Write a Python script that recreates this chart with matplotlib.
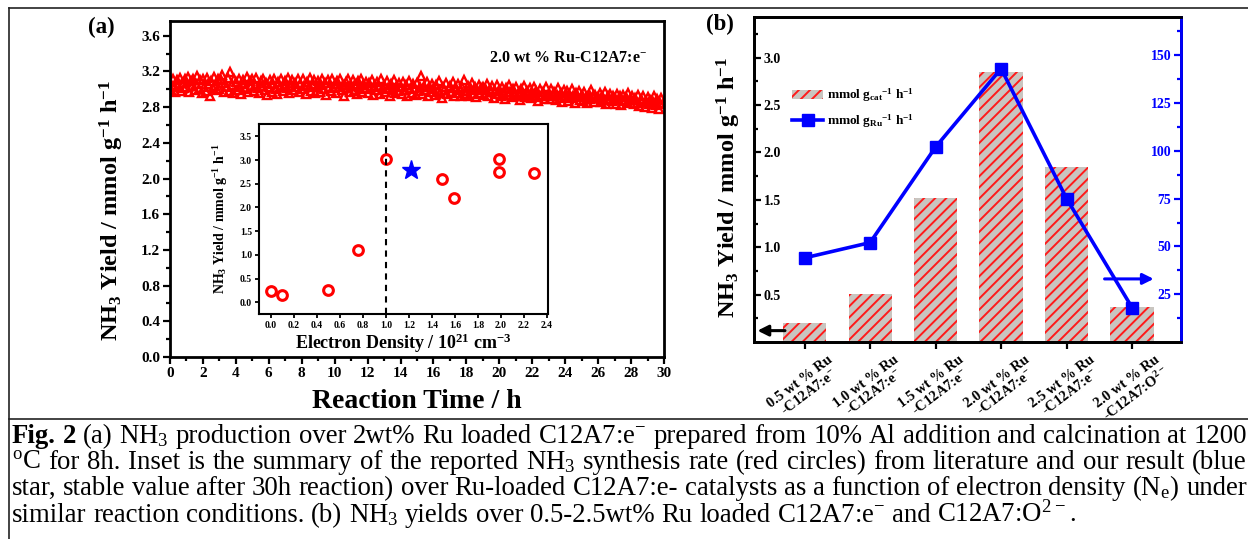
import numpy as np
import matplotlib
matplotlib.use("Agg")
import matplotlib.pyplot as plt
from matplotlib.lines import Line2D
from matplotlib.patches import Patch
from matplotlib.ticker import MultipleLocator, FormatStrFormatter, FixedLocator

# ---------------- data ----------------
# (a) NH3 yield of 2.0 wt% Ru-C12A7:e- during 30 h on stream (one reading every 5 min)
yield_on_stream = [
    3.08, 2.99, 3.11, 3.03, 2.97, 3.10, 3.05, 3.13, 2.98, 3.07, 3.01, 3.12,
    3.02, 3.14, 2.97, 3.09, 3.04, 3.12, 2.99, 3.06, 3.15, 3.00, 3.10, 2.96,
    3.11, 3.03, 2.98, 3.13, 3.06, 2.92, 3.09, 3.01, 3.14, 3.04, 2.99, 3.12,
    3.00, 3.10, 3.16, 2.97, 3.07, 3.02, 3.13, 2.98, 3.19, 3.05, 2.96, 3.11,
    3.08, 2.99, 3.12, 3.03, 2.95, 3.10, 3.06, 3.00, 3.14, 2.97, 3.09, 3.04,
    3.11, 2.98, 3.05, 3.13, 3.01, 2.96, 3.09, 3.04, 3.12, 2.99, 3.07, 2.94,
    3.02, 3.10, 2.97, 3.06, 3.12, 3.00, 2.95, 3.08, 3.03, 3.11, 2.98, 3.05,
    3.09, 3.01, 3.13, 2.96, 3.04, 3.10, 2.99, 3.07, 3.02, 3.12, 2.97, 3.06,
    3.00, 3.11, 3.04, 2.95, 3.08, 3.02, 3.13, 2.98, 3.06, 3.10, 2.96, 3.03,
    3.09, 2.97, 3.05, 3.12, 3.00, 3.07, 2.94, 3.10, 3.03, 2.98, 3.11, 3.01,
    3.06, 2.96, 3.09, 3.02, 3.12, 2.99, 3.05, 2.93, 3.08, 3.01, 3.11, 2.97,
    3.04, 3.10, 2.98, 3.06, 2.95, 3.09, 3.02, 3.12, 2.97, 3.05, 3.00, 3.08,
    2.96, 3.07, 3.01, 3.10, 2.94, 3.04, 2.99, 3.08, 3.02, 2.95, 3.11, 3.00,
    3.05, 2.97, 3.09, 3.01, 2.93, 3.06, 3.00, 3.10, 2.96, 3.03, 2.98, 3.07,
    3.02, 2.95, 3.08, 2.99, 3.05, 2.92, 3.09, 3.00, 2.96, 3.06, 3.01, 2.94,
    3.07, 2.98, 3.03, 3.15, 2.95, 3.04, 2.99, 3.08, 2.93, 3.02, 2.97, 3.06,
    3.00, 2.94, 3.05, 2.98, 3.09, 2.96, 2.90, 3.03, 2.99, 3.07, 2.95, 3.01,
    3.04, 2.97, 3.08, 2.93, 3.01, 2.96, 3.06, 2.99, 2.92, 3.03, 3.10, 2.95,
    2.98, 3.04, 2.93, 3.00, 3.07, 2.95, 3.02, 2.91, 2.99, 3.05, 2.96, 3.01,
    3.03, 2.94, 2.99, 3.06, 2.92, 3.00, 2.97, 3.04, 2.90, 2.98, 3.05, 2.95,
    2.99, 2.92, 3.03, 2.96, 2.89, 3.01, 2.94, 3.05, 2.97, 2.91, 3.00, 2.95,
    3.02, 2.93, 2.97, 2.88, 3.00, 2.95, 3.04, 2.91, 2.98, 2.94, 3.01, 2.90,
    2.96, 3.02, 2.91, 2.98, 2.87, 2.94, 3.00, 2.92, 2.97, 2.89, 3.03, 2.93,
    2.95, 2.89, 3.00, 2.93, 2.97, 2.88, 2.94, 3.01, 2.90, 2.96, 2.86, 2.99,
    2.93, 2.98, 2.87, 2.95, 2.90, 3.00, 2.92, 2.85, 2.96, 2.91, 2.98, 2.88,
    2.94, 2.87, 2.97, 2.91, 2.85, 2.95, 2.89, 2.99, 2.92, 2.86, 2.94, 2.90,
    2.91, 2.96, 2.86, 2.93, 2.88, 2.97, 2.84, 2.92, 2.89, 2.95, 2.87, 2.93,
    2.90, 2.84, 2.95, 2.88, 2.92, 2.82, 2.94, 2.87, 2.91, 2.85, 2.96, 2.89,
    2.88, 2.93, 2.83, 2.90, 2.85, 2.94, 2.81, 2.89, 2.86, 2.92, 2.80, 2.87,
    2.91, 2.83, 2.88, 2.79, 2.86, 2.92, 2.82, 2.89, 2.78, 2.85, 2.90, 2.84,
]
reaction_time_h = np.arange(len(yield_on_stream)) / 12.0

# inset: literature (red circles) and this work (blue star)
ne_literature = [0.0, 0.1, 0.5, 0.76, 1.0, 1.49, 1.59, 1.98, 1.98, 2.29]
rate_literature = [0.23, 0.15, 0.27, 1.11, 3.02, 2.61, 2.20, 3.02, 2.75, 2.73]
ne_this_work = [1.22]
rate_this_work = [2.80]

# (b) catalysts
catalysts = ["0.5 wt % Ru\n-C12A7:e$^{-}$", "1.0 wt % Ru\n-C12A7:e$^{-}$",
             "1.5 wt % Ru\n-C12A7:e$^{-}$", "2.0 wt % Ru\n-C12A7:e$^{-}$",
             "2.5 wt % Ru\n-C12A7:e$^{-}$", "2.0 wt % Ru\n-C12A7:O$^{2-}$"]
yield_per_gcat = [0.20, 0.51, 1.52, 2.85, 1.85, 0.37]
yield_per_gru = [44, 52, 102, 143, 75, 18]

# ---------------- style ----------------
plt.rcParams["font.family"] = ["Liberation Serif", "DejaVu Serif"]
plt.rcParams["font.weight"] = "bold"
plt.rcParams["mathtext.default"] = "regular"
plt.rcParams["hatch.linewidth"] = 1.4
plt.rcParams["axes.unicode_minus"] = True

W, H = 1248, 539
fig = plt.figure(figsize=(W / 100, H / 100), dpi=100)


def px_axes(l, t, r, b):
    return fig.add_axes([l / W, 1 - b / H, (r - l) / W, (b - t) / H])


def ftext(x, y, s, **kw):
    return fig.text(x / W, 1 - y / H, s, **kw)


RED = "#ff0000"
BLUE = "#0000ff"

# ---------------- panel (a) ----------------
axA = px_axes(170, 21, 664, 357)
axA.plot(reaction_time_h, yield_on_stream, ls="none", marker="^", ms=5.4,
         mfc="none", mec=RED, mew=1.7)
axA.set_xlim(0, 30)
axA.set_ylim(0, 3.765)
axA.xaxis.set_major_locator(MultipleLocator(2))
axA.xaxis.set_minor_locator(MultipleLocator(1))
axA.yaxis.set_major_locator(MultipleLocator(0.4))
axA.yaxis.set_minor_locator(MultipleLocator(0.2))
axA.yaxis.set_major_formatter(FormatStrFormatter("%.1f"))
axA.tick_params(which="both", direction="out", width=1.6, labelsize=11, pad=2)
axA.tick_params(which="major", length=5)
axA.tick_params(which="minor", length=3)
for sp in axA.spines.values():
    sp.set_linewidth(2.0)
axA.text(0.965, 0.89, "2.0 wt % Ru-C12A7:e$^{-}$", transform=axA.transAxes,
         ha="right", va="center", fontsize=11.5)
ftext(112, 210, "NH$_3$ Yield / mmol g$^{-1}$ h$^{-1}$", rotation=90,
      ha="center", va="center", fontsize=17.5)
ftext(417, 401, "Reaction Time / h", ha="center", va="center", fontsize=20)
ftext(101, 27, "(a)", ha="center", va="center", fontsize=16.5)

# inset
axI = px_axes(259, 124, 548, 314)
axI.plot(ne_literature, rate_literature, ls="none", marker="o", ms=7,
         mfc="none", mec=RED, mew=2.2)
axI.plot(ne_this_work, rate_this_work, ls="none", marker="*", ms=14,
         color=BLUE)
axI.axvline(1.0, color="black", lw=1.5, ls=(0, (3, 2.5)))
axI.set_xlim(-0.104, 2.41)
axI.set_ylim(-0.245, 3.76)
axI.xaxis.set_major_locator(MultipleLocator(0.2))
axI.yaxis.set_major_locator(MultipleLocator(0.5))
axI.xaxis.set_major_formatter(FormatStrFormatter("%.1f"))
axI.yaxis.set_major_formatter(FormatStrFormatter("%.1f"))
axI.tick_params(direction="out", length=3, width=1.3, labelsize=7, pad=2)
for sp in axI.spines.values():
    sp.set_linewidth(1.5)
ftext(221, 219, "NH$_3$ Yield / mmol g$^{-1}$ h$^{-1}$", rotation=90,
      ha="center", va="center", fontsize=10)
ftext(403, 343, "Electron Density / 10$^{21}$ cm$^{-3}$", ha="center",
      va="center", fontsize=13)

# ---------------- panel (b) ----------------
axB = px_axes(754, 17, 1181, 342)
xpos = np.arange(1, len(catalysts) + 1)
axB.bar(xpos, yield_per_gcat, width=0.66, color="#c9c5c0", edgecolor="#ff1a1a",
        hatch="///", linewidth=0)
axB.set_xlim(0.227, 6.747)
axB.set_ylim(0, 3.43)
axB.set_xticks(xpos)
axB.set_xticklabels(catalysts, rotation=37, ha="center", va="top",
                    multialignment="center", fontsize=10.5, linespacing=1.0)
axB.tick_params(axis="x", direction="out", length=5, width=1.6, pad=3)
axB.yaxis.set_major_locator(FixedLocator([0.5, 1.0, 1.5, 2.0, 2.5, 3.0]))
axB.yaxis.set_minor_locator(FixedLocator([0.25, 0.75, 1.25, 1.75, 2.25, 2.75, 3.25]))
axB.yaxis.set_major_formatter(FormatStrFormatter("%.1f"))
axB.tick_params(axis="y", which="both", direction="in", width=1.6, pad=-7,
                labelsize=10, right=False)
axB.tick_params(axis="y", which="major", length=5)
axB.tick_params(axis="y", which="minor", length=3)
for lab in axB.get_yticklabels():
    lab.set_horizontalalignment("left")
for sp in axB.spines.values():
    sp.set_linewidth(2.0)

axB2 = axB.twinx()
axB2.plot(xpos, yield_per_gru, color=BLUE, lw=2.6, marker="s", ms=8.5)
axB2.set_ylim(0, 170)
axB2.yaxis.set_major_locator(FixedLocator([25, 50, 75, 100, 125, 150]))
axB2.yaxis.set_minor_locator(FixedLocator([12.5, 37.5, 62.5, 87.5, 112.5, 137.5, 162.5]))
axB2.tick_params(axis="y", which="both", direction="in", width=1.6, pad=-7,
                 labelsize=10, colors=BLUE)
axB2.tick_params(axis="y", which="major", length=5)
axB2.tick_params(axis="y", which="minor", length=3)
for lab in axB2.get_yticklabels():
    lab.set_horizontalalignment("right")
for sp in axB2.spines.values():
    sp.set_linewidth(2.0)
axB2.spines["right"].set_color(BLUE)

# arrows
axB.annotate("", xy=(0.28, 0.12), xytext=(0.70, 0.12),
             arrowprops=dict(arrowstyle="-|>", color="black", lw=2.2,
                             mutation_scale=16, shrinkA=0, shrinkB=0))
axB2.annotate("", xy=(6.33, 33), xytext=(5.58, 33),
              arrowprops=dict(arrowstyle="-|>", color=BLUE, lw=2.2,
                              mutation_scale=16, shrinkA=0, shrinkB=0))

handles = [Patch(facecolor="#c9c5c0", edgecolor="#ff1a1a", hatch="///", lw=0),
           Line2D([], [], color=BLUE, lw=2.6, marker="s", ms=8)]
labels = ["mmol g$_{cat}$$^{-1}$ h$^{-1}$", "mmol g$_{Ru}$$^{-1}$ h$^{-1}$"]
axB2.legend(handles, labels, loc="upper left", bbox_to_anchor=(0.09, 0.785),
            frameon=False, fontsize=9.5, handlelength=2.3, handletextpad=0.3,
            labelspacing=0.6, borderaxespad=0, borderpad=0)

ftext(729, 187, "NH$_3$ Yield / mmol g$^{-1}$ h$^{-1}$", rotation=90,
      ha="center", va="center", fontsize=17.5)
ftext(720, 24, "(b)", ha="center", va="center", fontsize=16.5)

# ---------------- frame lines ----------------
for (x0, y0, x1, y1) in [(9, 8, W, 8), (9, 8, 9, H), (9, 419, W, 419)]:
    fig.add_artist(Line2D([x0 / W, x1 / W], [1 - y0 / H, 1 - y1 / H],
                          transform=fig.transFigure, color="#222222", lw=1.2))

# ---------------- caption ----------------
CAP_FONT = ["Liberation Serif", "DejaVu Serif"]
caption_lines = [
    [("Fig.", True), ("2", True), ("(a)", False), ("NH$_3$", False), ("production", False),
     ("over", False), ("2wt%", False), ("Ru", False), ("loaded", False),
     ("C12A7:e$^{-}$", False), ("prepared", False), ("from", False), ("10%", False),
     ("Al", False), ("addition", False), ("and", False), ("calcination", False),
     ("at", False), ("1200", False)],
    [("$^{o}$C", False), ("for", False), ("8h.", False), ("Inset", False), ("is", False),
     ("the", False), ("summary", False), ("of", False), ("the", False), ("reported", False),
     ("NH$_3$", False), ("synthesis", False), ("rate", False), ("(red", False),
     ("circles)", False), ("from", False), ("literature", False), ("and", False),
     ("our", False), ("result", False), ("(blue", False)],
    [("star,", False), ("stable", False), ("value", False), ("after", False), ("30h", False),
     ("reaction)", False), ("over", False), ("Ru-loaded", False), ("C12A7:e-", False),
     ("catalysts", False), ("as", False), ("a", False), ("function", False), ("of", False),
     ("electron", False), ("density", False), ("(N$_{e}$)", False), ("under", False)],
    [("similar", False), ("reaction", False), ("conditions.", False), ("(b)", False),
     ("NH$_3$", False), ("yields", False), ("over", False), ("0.5-2.5wt%", False),
     ("Ru", False), ("loaded", False), ("C12A7:e$^{-}$", False), ("and", False),
     ("C12A7:O$^{2-}$.", False)],
]
baselines = [443, 469, 495, 522]
justify = [True, True, True, False]
X0, X1 = 12, 1247

renderer = fig.canvas.get_renderer()
objs_all = []
for words, yb in zip(caption_lines, baselines):
    objs = [ftext(0, yb, w, fontsize=15, fontweight=("bold" if b else "normal"),
                  family=CAP_FONT, ha="left", va="baseline") for w, b in words]
    objs_all.append(objs)

# fit font size so that the first line fits the full width with normal spacing
w1 = sum(t.get_window_extent(renderer).width for t in objs_all[0])
sp1 = 0.25 * 15 * 100 / 72
nat = w1 + sp1 * (len(objs_all[0]) - 1)
fs = 15 * (X1 - X0) / nat
for objs in objs_all:
    for t in objs:
        t.set_fontsize(fs)

space = 0.25 * fs * 100 / 72
for objs, just in zip(objs_all, justify):
    widths = [t.get_window_extent(renderer).width for t in objs]
    gap = (X1 - X0 - sum(widths)) / (len(objs) - 1) if just else space
    if just:
        gap = max(gap, 0.6 * space)
    x = X0
    for t, w in zip(objs, widths):
        t.set_x(x / W)
        x += w + gap

fig.savefig("out.png", dpi=100)
